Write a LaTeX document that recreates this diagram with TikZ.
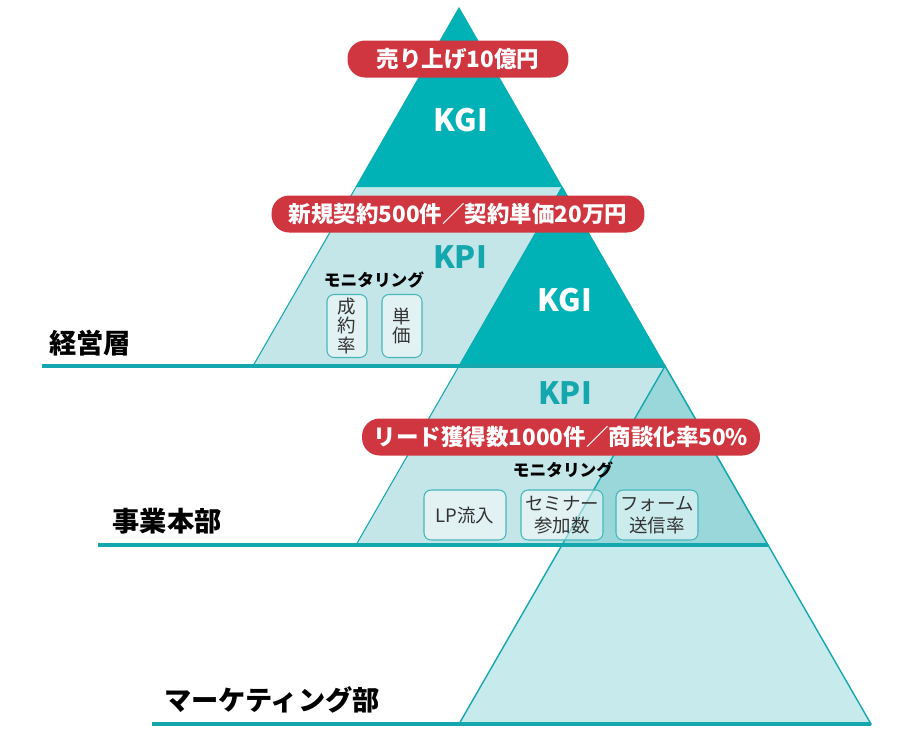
\documentclass[tikz,border=0pt]{standalone}
\usepackage{fontspec}
\setmainfont{Noto Sans CJK JP}
\definecolor{kgiteal}{RGB}{0,178,181}
\definecolor{kpiteal}{RGB}{197,230,232}
\definecolor{edgeteal}{RGB}{20,168,174}
\definecolor{labred}{RGB}{208,54,64}
\definecolor{boxedge}{RGB}{70,182,187}

\begin{document}
\begin{tikzpicture}[x=0.02cm,y=-0.02cm,
    kgi/.style={fill=kgiteal},
    kpi/.style={fill=kpiteal,draw=edgeteal,line width=0.6pt},
    floor/.style={draw=edgeteal,line width=1.8pt},
    goal/.style={fill=labred,text=white,rounded corners=10pt,minimum height=0.74cm,inner sep=0pt,font=\fontsize{12.8}{14}\selectfont\bfseries},
    kgitext/.style={text=white,font=\fontsize{17.5}{20}\selectfont\bfseries},
    kpitext/.style={text=edgeteal,font=\fontsize{17.5}{20}\selectfont\bfseries},
    layer/.style={font=\fontsize{15.5}{18}\selectfont\bfseries},
    monitor/.style={font=\fontsize{9.5}{11}\selectfont\bfseries},
    metric/.style={draw=boxedge,fill=white,fill opacity=0.5,text opacity=1,rounded corners=4pt,line width=0.6pt,inner sep=0pt,align=center,text=black!80}]
  \useasboundingbox (0,0) rectangle (912,735);

  % pyramids
  \draw[kpi] (459,8) -- (665,366) -- (253,366) -- cycle;
  \fill[kgi] (459,8) -- (562,187) -- (356,187) -- cycle;
  \draw[kpi] (562,187) -- (768,545) -- (356,545) -- cycle;
  \fill[kgi] (562,187) -- (665,366) -- (459,366) -- cycle;
  \draw[edgeteal,line width=0.8pt,fill=edgeteal,fill opacity=0.24] (665,366) -- (871,724) -- (459,724) -- cycle;

  \draw[floor] (42,366) -- (665,366);
  \draw[floor] (98,545) -- (768,545);
  \draw[floor] (152,724) -- (871,724);

  \node[layer] (top) at (90,343) {経営層};
  \node[layer] (biz) at (167,521) {事業本部};
  \node[layer] (mkt) at (272,700) {マーケティング部};

  \node[goal,minimum width=4.42cm] (sales) at (458,59) {売り上げ10億円};
  \node[kgitext] (kgiA) at (461,120) {KGI};
  \node[goal,minimum width=7.46cm] (deals) at (458,214) {新規契約500件／契約単価20万円};
  \node[kpitext] (kpiA) at (460,257) {KPI};
  \node[monitor] (monA) at (374,280) {モニタリング};
  \node[metric,minimum width=0.8cm,minimum height=1.26cm,font=\fontsize{10.5}{11.3}\selectfont] (rate) at (347,326) {成\\約\\率};
  \node[metric,minimum width=0.8cm,minimum height=1.26cm,font=\fontsize{10.5}{11.3}\selectfont] (price) at (402,326) {単\\価};

  \node[kgitext] (kgiB) at (565,300) {KGI};
  \node[kpitext] (kpiB) at (565,393) {KPI};
  \node[goal,minimum width=7.96cm] (leads) at (561,437) {リード獲得数1000件／商談化率50\%};
  \node[monitor] (monB) at (563,470) {モニタリング};
  \node[metric,minimum width=1.64cm,minimum height=1cm,font=\fontsize{10.5}{12.5}\selectfont] (lp) at (465,515) {LP流入};
  \node[metric,minimum width=1.64cm,minimum height=1cm,font=\fontsize{10.5}{12.5}\selectfont] (seminar) at (562,515) {セミナー\\参加数};
  \node[metric,minimum width=1.64cm,minimum height=1cm,font=\fontsize{10.5}{12.5}\selectfont] (form) at (657,515) {フォーム\\送信率};
\end{tikzpicture}
\end{document}
